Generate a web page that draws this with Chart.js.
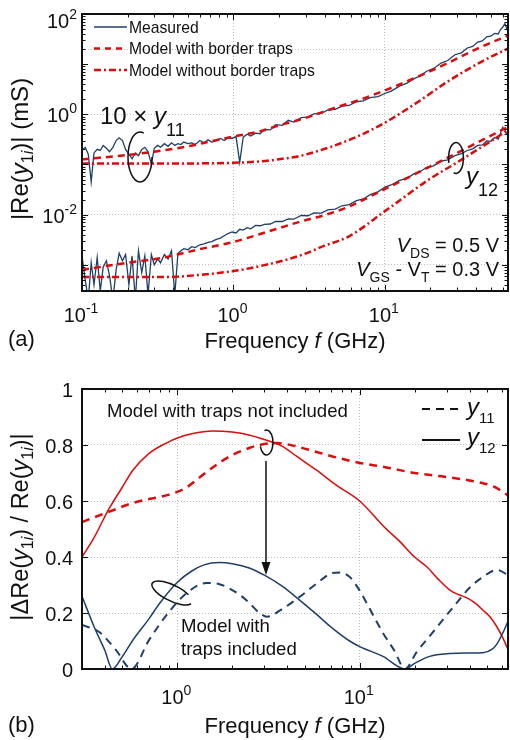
<!DOCTYPE html>
<html>
<head>
<meta charset="utf-8">
<title>Re(y11), Re(y12) vs frequency</title>
<script src="https://cdn.jsdelivr.net/npm/chart.js@4.4.1/dist/chart.umd.min.js"></script>
<style>
  body { margin: 0; background: #fff; }
  #page { position: relative; width: 510px; height: 740px; }
  #chartA { position: absolute; left: 0; top: 0; }
  #chartB { position: absolute; left: 0; top: 370px; }
</style>
</head>
<body>
<div id="page">
  <canvas id="chartA" width="510" height="370"></canvas>
  <canvas id="chartB" width="510" height="370"></canvas>
</div>
<script>
// ---------- panel (a) : |Re(y1i)| (mS) ----------
// measured data (GHz), y11 is plotted x10
var measFreq = [0.1,0.105,0.11,0.115,0.12,0.126,0.132,0.138,0.145,0.152,
    0.16,0.168,0.176,0.185,0.194,0.204,0.214,0.225,0.236,0.248,
    0.26,0.273,0.287,0.3,0.316,0.33,0.35,0.37,0.39,0.41,
    0.43,0.45,0.47,0.5,0.53,0.56,0.6,0.64,0.68,0.72,
    0.77,0.82,0.87,0.92,0.98,1.04,1.1,1.16,1.23,1.3,
    1.4,1.5,1.6,1.75,1.9,2.1,2.3,2.5,2.8,3.1,
    3.4,3.8,4.2,4.7,5.2,5.8,6.5,7.2,8,9,
    10,11,12.5,14,15.5,17,19,21,23.5,26,
    29,32,35,38,41,44,47,50,53,56,
    58,60,62,64,65];
var measY11 = [0.19,0.22,0.16,0.045,0.17,0.2,0.19,0.24,0.21,0.18,
    0.22,0.3,0.34,0.3,0.2,0.16,0.13,0.17,0.15,0.2,
    0.22,0.18,0.1,0.21,0.24,0.22,0.26,0.23,0.27,0.24,
    0.26,0.25,0.28,0.26,0.27,0.25,0.3,0.27,0.31,0.28,
    0.3,0.33,0.3,0.34,0.33,0.36,0.11,0.35,0.4,0.37,
    0.42,0.41,0.5,0.49,0.62,0.6,0.76,0.7,0.86,0.88,
    1.02,1.04,1.22,1.26,1.45,1.5,1.78,1.86,2.15,2.25,
    2.6,2.9,3.65,4.2,5.1,5.8,7.3,8.2,10.5,11.8,
    15.4,16.8,21,22.5,27.5,29,35,36,41,40,
    49,55,64,50,60];
var measY12 = [1.5e-3,5e-4,2e-4,1.1e-3,4e-4,1.4e-3,3e-4,9e-4,1.2e-3,6e-4,
    2e-4,8e-4,1.7e-3,1.2e-3,1.6e-3,4e-4,1.5e-3,2e-4,1.9e-3,7e-4,
    1.5e-3,2.5e-4,1.6e-3,1.0e-3,1.3e-3,1.1e-3,1.6e-3,1.3e-3,1.9e-3,2.5e-4,
    1.7e-3,1.9e-3,2.1e-3,2.0e-3,2.3e-3,2.2e-3,2.5e-3,2.6e-3,2.8e-3,2.9e-3,
    3.2e-3,3.4e-3,3.8e-3,4.2e-3,4.5e-3,4.3e-3,5.1e-3,4.9e-3,5.5e-3,5.2e-3,
    6.1e-3,6.0e-3,6.4e-3,6.5e-3,7.3e-3,7.3e-3,8.2e-3,8.1e-3,9.6e-3,9.5e-3,
    0.0108,0.0107,0.0124,0.0129,0.015,0.0158,0.019,0.0205,0.025,0.0285,
    0.0355,0.039,0.048,0.053,0.065,0.071,0.089,0.094,0.116,0.124,
    0.15,0.165,0.19,0.205,0.24,0.245,0.295,0.29,0.345,0.32,
    0.42,0.55,0.48,0.4,0.44];

// models (10 x y11)
var y11TrapFreq = [0.1,0.2,0.3,0.5,0.7,1,1.5,2,3,4.5,7,10,16,26,43,65];
var y11Trap = [0.126,0.155,0.18,0.23,0.285,0.36,0.46,0.6,0.85,1.3,2.0,3.0,5.4,10.5,22,37];
var y11NoTrapFreq = [0.1,0.5,1,1.5,2,2.7,3.5,4.5,6.7,10,13,16.7,26,43,65];
var y11NoTrap = [0.105,0.105,0.108,0.115,0.127,0.146,0.18,0.23,0.37,0.68,1.1,1.8,4.5,11,20.5];
// models y12
var y12TrapFreq = [0.1,0.2,0.33,0.6,1,1.5,2.7,4,5.8,9.5,16.7,30,65];
var y12Trap = [7.9e-4,1.1e-3,1.35e-3,2.05e-3,2.85e-3,4.1e-3,7.1e-3,9.8e-3,0.0145,0.03,0.07,0.17,0.56];
var y12NoTrapFreq = [0.1,0.36,0.6,1,1.5,2.7,4,5.8,10,19.5,30,65];
var y12NoTrap = [5.7e-4,5.7e-4,6.3e-4,7.5e-4,9.4e-4,1.5e-3,2.4e-3,3.7e-3,0.0117,0.05,0.11,0.48];

// ---------- panel (b) : |dRe(y1i) / Re(y1i)| ----------
var noTrapY12Freq = [0.3,0.35,0.42,0.5,0.57,0.7,0.87,1,1.2,1.56,2,2.5,2.82,3.77,4.5,5.8,7.5,10,13.5,16.6,20,23.4,27,31.2,35,38.7,43,47.4,52,56.6,61,65];
var noTrapY12 = [0.40,0.47,0.57,0.65,0.71,0.77,0.807,0.825,0.84,0.85,0.846,0.835,0.825,0.795,0.76,0.71,0.655,0.6,0.51,0.455,0.4,0.364,0.32,0.282,0.265,0.254,0.235,0.21,0.185,0.15,0.11,0.07];
var noTrapY11Freq = [0.3,0.42,0.57,0.7,0.87,1.1,1.3,1.56,2,2.5,2.82,3.5,4.5,5.8,7.5,10,14,20,28,38.7,47,55,60,65];
var noTrapY11 = [0.525,0.561,0.593,0.607,0.62,0.645,0.68,0.72,0.764,0.79,0.8,0.807,0.795,0.775,0.755,0.736,0.72,0.7,0.688,0.675,0.664,0.65,0.635,0.62];
var trapY12Freq = [0.3,0.35,0.4,0.44,0.5,0.566,0.7,0.8,1,1.2,1.4,1.7,2,2.5,3,3.77,4.7,5.8,7.1,8.8,10,13.4,17.7,20,24.2,31.2,40,47.4,53,56.6,61,65];
var trapY12 = [0.26,0.15,0.067,0.0,0.045,0.10,0.18,0.235,0.31,0.35,0.372,0.38,0.376,0.36,0.335,0.295,0.245,0.195,0.145,0.1,0.08,0.045,0.0,0.02,0.045,0.055,0.057,0.058,0.07,0.09,0.13,0.17];
var trapY11Freq = [0.3,0.373,0.46,0.56,0.7,0.9,1.12,1.44,1.7,2,2.4,2.82,3.1,3.77,4.67,5.8,7.1,7.8,8.8,10,10.9,13.4,15.5,17.7,20.5,25,34,40,47.4,56.6,65];
var trapY11 = [0.157,0.132,0.068,0.0,0.104,0.204,0.27,0.307,0.303,0.282,0.245,0.2,0.187,0.215,0.257,0.305,0.343,0.345,0.329,0.28,0.236,0.129,0.065,0.0,0.06,0.129,0.236,0.29,0.329,0.354,0.335];

var RED = '#dc0c0c';
var NAVY = '#1f3f68';
var INK = '#111111';
var GRID = '#bdbdbd';
var FONT = 'Arial, "Liberation Sans", sans-serif';

function pts(fs, vs) {
    return fs.map(function (f, i) { return {x: f, y: vs[i]}; });
}

// minor log ticks 2..9 x 10^k inside (lo, hi)
function logMinors(lo, hi) {
    var out = [];
    for (var k = -5; k <= 3; k++) {
        for (var m = 2; m <= 9; m++) {
            var v = m * Math.pow(10, k);
            if (v > lo * 1.001 && v < hi * 0.999) out.push(v);
        }
    }
    return out;
}

// parts: [text, size, italic, baseline shift]
function richText(ctx, parts, x, y, align) {
    var w = 0;
    parts.forEach(function (p) {
        ctx.font = (p[2] ? 'italic ' : '') + p[1] + 'px ' + FONT;
        w += ctx.measureText(p[0]).width;
    });
    var cx = x;
    if (align == 'center') cx = x - w / 2;
    if (align == 'right') cx = x - w;
    ctx.textAlign = 'left';
    ctx.textBaseline = 'alphabetic';
    ctx.fillStyle = INK;
    parts.forEach(function (p) {
        ctx.font = (p[2] ? 'italic ' : '') + p[1] + 'px ' + FONT;
        ctx.fillText(p[0], cx, y + (p[3] || 0));
        cx += ctx.measureText(p[0]).width;
    });
}

function rotatedText(ctx, parts, x, y) {
    ctx.save();
    ctx.translate(x, y);
    ctx.rotate(-Math.PI / 2);
    richText(ctx, parts, 0, 0, 'center');
    ctx.restore();
}

// inward ticks on all four sides + box
function drawFrame(ctx, a, xs, ys, xMaj, xMin, yMaj, yMin) {
    ctx.strokeStyle = INK;
    ctx.lineWidth = 1;
    function seg(x1, y1, x2, y2) {
        ctx.beginPath(); ctx.moveTo(x1, y1); ctx.lineTo(x2, y2); ctx.stroke();
    }
    function xt(v, len) {
        var p = Math.round(xs.getPixelForValue(v)) + 0.5;
        seg(p, a.bottom, p, a.bottom - len);
        seg(p, a.top, p, a.top + len);
    }
    function yt(v, len) {
        var p = Math.round(ys.getPixelForValue(v)) + 0.5;
        seg(a.left, p, a.left + len, p);
        seg(a.right, p, a.right - len, p);
    }
    xMaj.forEach(function (v) { xt(v, 6); });
    xMin.forEach(function (v) { xt(v, 3.5); });
    yMaj.forEach(function (v) { yt(v, 6); });
    yMin.forEach(function (v) { yt(v, 3.5); });
    ctx.lineWidth = 2;
    ctx.strokeRect(a.left, a.top, a.right - a.left, a.bottom - a.top);
}

function powLabel(exp) {
    return [['10', 20, false, 0], [exp, 14, false, -9]];
}

function ellipseArc(ctx, cx, cy, rx, ry, rot, a0, a1) {
    ctx.beginPath();
    ctx.ellipse(cx, cy, rx, ry, rot, a0, a1);
    ctx.stroke();
}

var hideLegend = { legend: { display: false }, tooltip: { enabled: false } };

// ---------- decorations for (a) ----------
var panelA = {
    id: 'panelA',
    afterDraw: function (chart) {
        var ctx = chart.ctx, a = chart.chartArea, xs = chart.scales.x, ys = chart.scales.y;
        ctx.save();
        drawFrame(ctx, a, xs, ys, [1, 10], logMinors(0.1, 65),
            [1e-3, 1e-2, 0.1, 1, 10], logMinors(3.1e-4, 100));

        // tick labels
        [[0.1, '-1'], [1, '0'], [10, '1']].forEach(function (t) {
            richText(ctx, powLabel(t[1]), xs.getPixelForValue(t[0]) - 1, 322, 'center');
        });
        [[1e-2, '-2'], [1, '0'], [100, '2']].forEach(function (t) {
            var py = Math.max(ys.getPixelForValue(t[0]), a.top + 6);
            richText(ctx, powLabel(t[1]), 77, py + 8, 'right');
        });

        // axis titles
        richText(ctx, [['Frequency ', 22], ['f', 22, true], [' (GHz)', 22]], 295, 348, 'center');
        richText(ctx, [['(a)', 22]], 8, 346, 'left');
        rotatedText(ctx, [['|Re(', 24], ['y', 24, true], ['1', 16, false, 5], ['i', 16, true, 5], [')| (mS)', 24]], 28, 149);

        // legend
        var legendA = [['Measured', NAVY, 1.5, []],
            ['Model with border traps', RED, 2.5, [6, 5]],
            ['Model without border traps', RED, 2.5, [7, 3, 2, 3]]];
        legendA.forEach(function (l, i) {
            var ly = 27 + i * 21.5;
            ctx.strokeStyle = l[1]; ctx.lineWidth = l[2]; ctx.setLineDash(l[3]);
            ctx.beginPath(); ctx.moveTo(94, ly); ctx.lineTo(127, ly); ctx.stroke();
            ctx.setLineDash([]);
            richText(ctx, [[l[0], 15.7]], 129, ly + 5.5, 'left');
        });

        // annotations
        richText(ctx, [['10 \u00d7 ', 24], ['y', 24, true], ['11', 18, false, 12]], 100, 124, 'left');
        richText(ctx, [['y', 24, true], ['12', 18, false, 12]], 466, 184, 'left');
        richText(ctx, [['V', 20, true], ['DS', 14, false, 6], [' = 0.5 V', 20]], 499, 252, 'right');
        richText(ctx, [['V', 20, true], ['GS', 14, false, 6], [' - V', 20], ['T', 14, false, 6], [' = 0.3 V', 20]], 499, 276, 'right');
        ctx.strokeStyle = INK; ctx.lineWidth = 1.5;
        ellipseArc(ctx, 140, 157, 12, 25, 0, 0, 1.6 * Math.PI);
        ellipseArc(ctx, 456, 158, 7.5, 15.5, 0, -0.1 * Math.PI, 0.6 * Math.PI);
        ellipseArc(ctx, 456, 158, 7.5, 15.5, 0, 0.9 * Math.PI, 1.9 * Math.PI);
        ctx.restore();
    }
};

// ---------- decorations for (b) ----------
var panelB = {
    id: 'panelB',
    afterDraw: function (chart) {
        var ctx = chart.ctx, a = chart.chartArea, xs = chart.scales.x, ys = chart.scales.y;
        ctx.save();
        drawFrame(ctx, a, xs, ys, [1, 10], logMinors(0.3, 65), [0.2, 0.4, 0.6, 0.8], []);

        [[1, '0'], [10, '1']].forEach(function (t) {
            richText(ctx, powLabel(t[1]), xs.getPixelForValue(t[0]) - 1, 334, 'center');
        });
        [0, 0.2, 0.4, 0.6, 0.8, 1].forEach(function (v) {
            richText(ctx, [[String(v), 20]], 73, ys.getPixelForValue(v) + 8, 'right');
        });

        richText(ctx, [['Frequency ', 22], ['f', 22, true], [' (GHz)', 22]], 295, 363, 'center');
        richText(ctx, [['(b)', 22]], 8, 362, 'left');
        rotatedText(ctx, [['|\u0394Re(', 23.5], ['y', 23.5, true], ['1', 16, false, 5], ['i', 16, true, 5],
            [') / Re(', 23.5], ['y', 23.5, true], ['1', 16, false, 5], ['i', 16, true, 5], [')|', 23.5]], 28, 157);

        // legend y11 / y12
        ctx.strokeStyle = INK; ctx.lineWidth = 2;
        ctx.setLineDash([8, 6]);
        ctx.beginPath(); ctx.moveTo(422, 39); ctx.lineTo(462, 39); ctx.stroke();
        ctx.setLineDash([]);
        ctx.beginPath(); ctx.moveTo(422, 70); ctx.lineTo(460, 70); ctx.stroke();
        richText(ctx, [['y', 24, true], ['11', 15, false, 8]], 467, 45, 'left');
        richText(ctx, [['y', 24, true], ['12', 15, false, 8]], 467, 75, 'left');

        // annotations
        richText(ctx, [['Model with traps not included', 18.6]], 107, 47, 'left');
        richText(ctx, [['Model with', 18.6]], 181, 262, 'left');
        richText(ctx, [['traps included', 18.6]], 181, 285, 'left');
        ctx.strokeStyle = INK; ctx.lineWidth = 1.5;
        ellipseArc(ctx, 266.5, 72.5, 6.5, 12.5, 0, -0.6 * Math.PI, 0.9 * Math.PI);
        ellipseArc(ctx, 172, 223, 22, 8, 0.45, 0.05 * Math.PI, 1.75 * Math.PI);
        ctx.beginPath(); ctx.moveTo(266, 91); ctx.lineTo(266, 194); ctx.stroke();
        ctx.fillStyle = INK;
        ctx.beginPath(); ctx.moveTo(266, 205); ctx.lineTo(261.5, 192); ctx.lineTo(270.5, 192); ctx.closePath(); ctx.fill();
        ctx.restore();
    }
};

function line(data, color, width, dash, smooth) {
    return {
        data: data, borderColor: color, borderWidth: width, borderDash: dash,
        pointRadius: 0, fill: false, clip: 0,
        tension: 0, cubicInterpolationMode: smooth ? 'monotone' : 'default'
    };
}

function logAxis(min, max, gridAt) {
    return {
        type: 'logarithmic', min: min, max: max,
        ticks: { display: false },
        grid: { color: GRID, lineWidth: 1, drawTicks: false },
        border: { display: false, dash: [1, 2] },
        afterBuildTicks: function (s) { s.ticks = gridAt.map(function (v) { return {value: v}; }); }
    };
}

// grid in (a) sits at every decade except 10, plus the dotted line near 20 seen in the figure
new Chart(document.getElementById('chartA'), {
    type: 'line',
    data: {
        datasets: [
            line(pts(y11TrapFreq, y11Trap), RED, 2.5, [7, 5], true),
            line(pts(y11NoTrapFreq, y11NoTrap), RED, 2.5, [7, 3, 2, 3], true),
            line(pts(y12TrapFreq, y12Trap), RED, 2.5, [7, 5], true),
            line(pts(y12NoTrapFreq, y12NoTrap), RED, 2.5, [7, 3, 2, 3], true),
            line(pts(measFreq, measY11), NAVY, 1.3, [], false),
            line(pts(measFreq, measY12), NAVY, 1.3, [], false)
        ]
    },
    options: {
        responsive: false, animation: false, events: [],
        layout: { autoPadding: false, padding: { left: 82, top: 14, right: 2, bottom: 79 } },
        scales: {
            x: logAxis(0.1, 65, [1, 10]),
            y: logAxis(3.1e-4, 100, [1e-3, 1e-2, 0.1, 1, 20])
        },
        plugins: hideLegend
    },
    plugins: [panelA]
});

new Chart(document.getElementById('chartB'), {
    type: 'line',
    data: {
        datasets: [
            line(pts(trapY12Freq, trapY12), NAVY, 1.5, [], true),
            line(pts(trapY11Freq, trapY11), NAVY, 2, [8, 6], true),
            line(pts(noTrapY12Freq, noTrapY12), RED, 1.5, [], true),
            line(pts(noTrapY11Freq, noTrapY11), RED, 2.5, [8, 6], true)
        ]
    },
    options: {
        responsive: false, animation: false, events: [],
        layout: { autoPadding: false, padding: { left: 82, top: 19, right: 2, bottom: 71 } },
        scales: {
            x: logAxis(0.3, 65, [1, 10]),
            y: {
                type: 'linear', min: 0, max: 1,
                ticks: { display: false },
                grid: { color: GRID, lineWidth: 1, drawTicks: false },
                border: { display: false, dash: [1, 2] },
                afterBuildTicks: function (s) { s.ticks = [0.2, 0.4, 0.6, 0.8].map(function (v) { return {value: v}; }); }
            }
        },
        plugins: hideLegend
    },
    plugins: [panelB]
});
</script>
</body>
</html>
